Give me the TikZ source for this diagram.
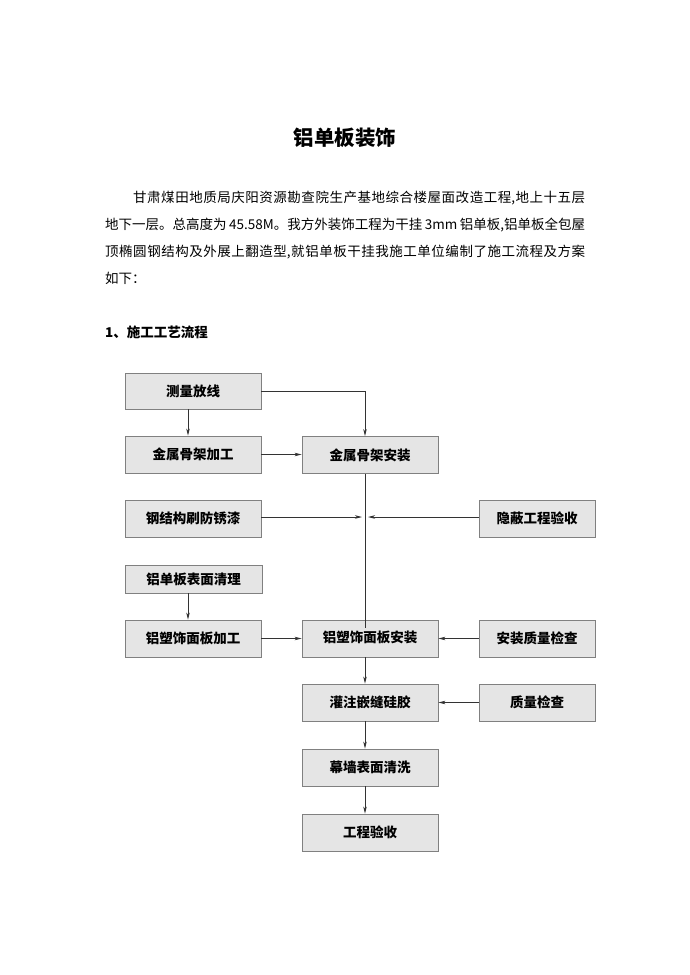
\documentclass[tikz,border=0pt]{standalone}
\usepackage{fontspec}
\setmainfont{Noto Sans CJK SC}
\usetikzlibrary{arrows.meta}
\XeTeXlinebreaklocale "zh"
\XeTeXlinebreakskip=0pt plus 3pt
\begin{document}
\begin{tikzpicture}[x=1pt,y=-1pt,
  box/.style={draw=black!50,fill=black!10,line width=0.8pt,minimum width=136pt,minimum height=37pt,inner sep=0pt,font=\fontsize{13.5}{15}\selectfont\bfseries},
  rbox/.style={box,minimum width=116pt},
  conn/.style={draw=black!80,line width=0.8pt},
  arr/.style={conn,-{Stealth[length=7pt,width=3.5pt,inset=2pt]}},
  para/.style={anchor=west,inner sep=0pt,font=\fontsize{13.5}{15}\selectfont}]
\useasboundingbox (0,0) rectangle (690,975);
% texts
\node[inner sep=0pt,font=\fontsize{20.5}{22}\selectfont\bfseries] (title) at (345,138) {铝单板装饰};
\node[para] (l1) at (133,198) {\parbox{452pt}{\parfillskip=0pt\hbadness=10000 甘肃煤田地质局庆阳资源勘查院生产基地综合楼屋面改造工程,地上十五层}};
\node[para] (l2) at (105,225) {\parbox{480pt}{\parfillskip=0pt\hbadness=10000 地下一层。总高度为 45.58M。我方外装饰工程为干挂 3mm 铝单板,铝单板全包屋}};
\node[para] (l3) at (105,252) {\parbox{480pt}{\parfillskip=0pt\hbadness=10000 顶椭圆钢结构及外展上翻造型,就铝单板干挂我施工单位编制了施工流程及方案}};
\node[para] (l4) at (105,278) {如下：};
\node[para,font=\fontsize{13.5}{15}\selectfont\bfseries] (h1) at (105,332) {1、施工工艺流程};
% boxes
\node[box,minimum height=36pt] (n1) at (193,391) {测量放线};
\node[box] (n2) at (193,454.5) {金属骨架加工};
\node[box] (n3) at (370,455) {金属骨架安装};
\node[box] (n4) at (193,518.5) {钢结构刷防锈漆};
\node[rbox] (n5) at (537,518.5) {隐蔽工程验收};
\node[box,minimum width=137pt,minimum height=28pt] (n6) at (193.5,579) {铝单板表面清理};
\node[box] (n7) at (193,638.5) {铝塑饰面板加工};
\node[box] (n8) at (370,638.5) {\raisebox{3pt}{铝塑饰面板安装}};
\node[rbox] (n9) at (537,638.5) {安装质量检查};
\node[box] (n10) at (370,702.5) {灌注嵌缝硅胶};
\node[rbox] (n11) at (537,702.5) {质量检查};
\node[box] (n12) at (370,767.5) {幕墙表面清洗};
\node[box] (n13) at (370,832.5) {工程验收};
% helper coordinates
\coordinate (xa) at (188,0);
\coordinate (xb) at (365,0);
\coordinate (ya) at (0,391);
\coordinate (jl) at (362,517);
\coordinate (jr) at (368,517);
\coordinate (jend) at (365,628);
% connectors
\draw[arr] (n1.south -| xa) -- (n2.north -| xa);
\draw[arr] (n1.east |- ya) -- (xb |- ya) -- (n3.north -| xb);
\draw[arr] (n2.east) -- (n3.west |- n2.east);
\draw[conn] (n3.south -| xb) -- (jend);
\draw[arr] (n4.east |- jl) -- (jl);
\draw[arr] (n5.west |- jr) -- (jr);
\draw[arr] (n6.south -| xa) -- (n7.north -| xa);
\draw[arr] (n7.east) -- (n8.west);
\draw[arr] (n9.west) -- (n8.east);
\draw[arr] (n8.south -| xb) -- (n10.north -| xb);
\draw[arr] (n11.west) -- (n10.east);
\draw[arr] (n10.south -| xb) -- (n12.north -| xb);
\draw[arr] (n12.south -| xb) -- (n13.north -| xb);
\end{tikzpicture}
\end{document}
